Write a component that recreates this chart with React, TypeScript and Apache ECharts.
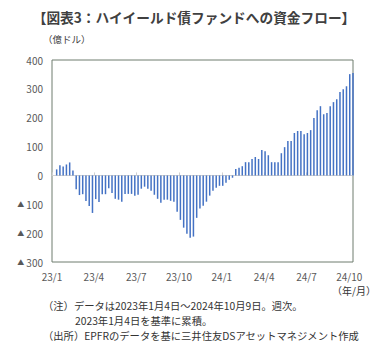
import React, { useEffect, useRef } from "react";
import * as echarts from "echarts";

// Axis origin and weekly data start (2023/1/4 = base, cumulative flows in 億ドル)
const AXIS_START = "2023-01-01";
const AXIS_END = "2024-10-09";
const FIRST_WEEK = "2023-01-04";

const flows: number[] = [
  0,
  21, 35, 31, 38, 45, 17, -48, -68, -65, -89, -106, -130, -82, -92, -65, -65, -44, -61,
  -81, -84, -91, -64, -64, -64, -70, -67, -46, -39, -46, -53, -67, -81, -95, -84, -84, -88, -91, -126,
  -154, -181, -202, -216, -212, -147, -115, -105, -91, -70, -53, -43, -36, -36, -25, -15, -8, 22, 27,
  32, 46, 46, 57, 64, 57, 88, 84, 70, 46, 46, 46, 77, 98, 119, 119, 147, 154, 154, 143, 147, 157,
  199, 226, 240, 212, 216, 240, 254, 264, 289, 299, 309, 351, 355,
];

const tickDates = [
  "2023-01-01", "2023-04-01", "2023-07-01", "2023-10-01",
  "2024-01-01", "2024-04-01", "2024-07-01", "2024-10-01",
];
const tickLabels = ["23/1", "23/4", "23/7", "23/10", "24/1", "24/4", "24/7", "24/10"];

const yMin = -300;
const yMax = 400;
const yStep = 100;

const titleText = "【図表3：ハイイールド債ファンドへの資金フロー】";
const unitText = "（億ドル）";
const xUnitText = "（年/月）";
const noteLines = [
  "（注）データは2023年1月4日～2024年10月9日。週次。",
  "2023年1月4日を基準に累積。",
  "（出所）EPFRのデータを基に三井住友DSアセットマネジメント作成",
];

const DAY = 86400000;
const dayOf = (d: string) => Math.round((Date.parse(d) - Date.parse(AXIS_START)) / DAY);

const FONT = "'Noto Sans CJK JP', 'Noto Sans', sans-serif";

export default function App() {
  const ref = useRef<HTMLDivElement>(null);
  useEffect(() => {
    if (!ref.current) return;
    const chart = echarts.init(ref.current, null, { renderer: "svg" });
    const firstDay = dayOf(FIRST_WEEK);
    const data = flows.map((v, i) => [firstDay + 7 * i, v]);
    const tickDays = tickDates.map(dayOf);
    const labelMap: Record<number, string> = {};
    tickDays.forEach((d, i) => (labelMap[d] = tickLabels[i]));
    const xMax = dayOf(AXIS_END);

    const note = (text: string, x: number, y: number, fontSize: number) => ({
      type: "text",
      x,
      y,
      style: {
        text,
        fontSize,
        fill: "#333",
        align: "left",
        verticalAlign: "middle",
        fontFamily: FONT,
      },
    });

    chart.setOption({
      animation: false,
      textStyle: { fontFamily: FONT },
      grid: {
        left: 52,
        top: 60,
        right: 34,
        bottom: 91,
        show: true,
        borderColor: "#6e7d6e",
        borderWidth: 1,
        backgroundColor: "transparent",
      },
      xAxis: [
        {
          type: "value",
          min: 0,
          max: xMax,
          position: "bottom",
          axisLine: { show: true, onZero: true, lineStyle: { color: "#d0d0d0", width: 1 } },
          axisTick: {
            show: true,
            inside: true,
            length: 3,
            customValues: tickDays,
            lineStyle: { color: "#d0d0d0" },
          },
          axisLabel: { show: false },
          splitLine: { show: false },
        },
        {
          type: "value",
          min: 0,
          max: xMax,
          position: "bottom",
          axisLine: { show: false, onZero: false },
          axisTick: { show: false },
          splitLine: { show: false },
          axisLabel: {
            show: true,
            customValues: tickDays,
            margin: 9,
            color: "#595959",
            fontSize: 10,
            fontFamily: FONT,
            formatter: (v: number) => labelMap[v] ?? "",
          },
        },
      ],
      yAxis: {
        type: "value",
        min: yMin,
        max: yMax,
        interval: yStep,
        axisLine: { show: false },
        axisTick: { show: false },
        splitLine: { show: false },
        axisLabel: {
          margin: 9,
          color: "#595959",
          fontSize: 10,
          fontFamily: FONT,
          formatter: (v: number) => (v < 0 ? `{tri|▲} ${-v}` : `${v}`),
          rich: {
            tri: { fontSize: 7, color: "#595959", fontFamily: FONT },
          },
        },
      },
      series: [
        {
          type: "bar",
          xAxisIndex: 0,
          data,
          barWidth: 1.5,
          itemStyle: { color: "#4472c4" },
        },
      ],
      graphic: [
        {
          type: "text",
          x: 194,
          y: 17,
          style: {
            text: titleText,
            fontSize: 13.7,
            fontWeight: "bold",
            fill: "#404040",
            align: "center",
            verticalAlign: "middle",
            fontFamily: FONT,
          },
        },
        {
          type: "text",
          x: 43,
          y: 39,
          style: {
            text: unitText,
            fontSize: 9.5,
            fill: "#404040",
            align: "left",
            verticalAlign: "middle",
            fontFamily: FONT,
          },
        },
        {
          type: "text",
          x: 376,
          y: 290,
          style: {
            text: xUnitText,
            fontSize: 10,
            fill: "#333",
            align: "right",
            verticalAlign: "middle",
            fontFamily: FONT,
          },
        },
        note(noteLines[0], 43, 305, 10.3),
        note(noteLines[1], 75, 320, 10.3),
        note(noteLines[2], 43, 335.3, 10.3),
      ],
    });
    return () => chart.dispose();
  }, []);
  return (
    <div
      ref={ref}
      style={{ position: "fixed", left: 0, top: 0, width: 387, height: 353, background: "#fff" }}
    />
  );
}
